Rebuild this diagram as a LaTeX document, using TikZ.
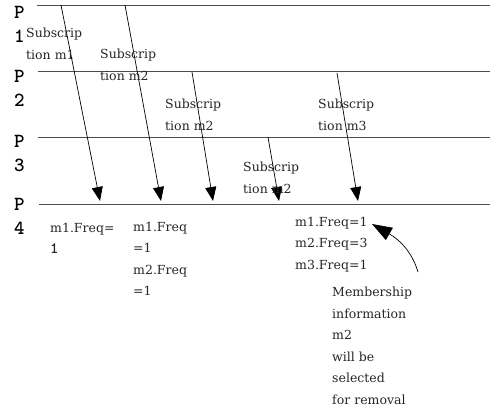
\documentclass[tikz,border=0pt]{standalone}
\usepackage{fontspec}
\setmainfont{DejaVu Serif}
\usetikzlibrary{arrows.meta}
\begin{document}
\begin{tikzpicture}[x=1pt,y=-1pt,
  proc/.style={draw=black!70, line width=0.9pt},
  msg/.style={draw=black, line width=0.7pt, -{Triangle[width=11pt,length=14pt]}},
  bigmsg/.style={draw=black, line width=0.7pt, -{Triangle[width=14pt,length=20pt]}},
  lbl/.style={anchor=north west, inner sep=0pt, align=left, text=black!85,
     font=\fontsize{12.5pt}{21.5pt}\selectfont},
  plbl/.style={anchor=north west, inner sep=0pt, align=left,
     font=\ttfamily\bfseries\fontsize{20pt}{24pt}\selectfont}]
\useasboundingbox (0,0) rectangle (490,415);
% process lines
\coordinate (l1a) at (37,5);   \coordinate (l1b) at (490,5);
\coordinate (l2a) at (38,71);  \coordinate (l2b) at (490,71);
\coordinate (l3a) at (38,137); \coordinate (l3b) at (490,137);
\coordinate (l4a) at (39,204); \coordinate (l4b) at (490,204);
\draw[proc] (l1a) -- (l1b);
\draw[proc] (l2a) -- (l2b);
\draw[proc] (l3a) -- (l3b);
\draw[proc] (l4a) -- (l4b);
% process labels
\node[plbl] (p1) at (14,6) {P\\1};
\node[plbl] (p2) at (14,70) {P\\2};
\node[plbl] (p3) at (14,135) {P\\3};
\node[plbl] (p4) at (14,198) {P\\4};
% messages
\coordinate (s1) at (61,5);   \coordinate (e1) at (100,201);
\coordinate (s2) at (125,5);  \coordinate (e2) at (161,201);
\coordinate (s3) at (192,72); \coordinate (e3) at (213,201);
\coordinate (s4) at (268,137);\coordinate (e4) at (279,201);
\coordinate (s5) at (337,73); \coordinate (e5) at (358,201);
\draw[msg] (s1) -- (e1);
\draw[msg] (s2) -- (e2);
\draw[msg] (s3) -- (e3);
\draw[msg] (s4) -- (e4);
\draw[msg] (s5) -- (e5);
% message labels
\node[lbl] (m1) at (26,28) {Subscrip\\tion m1};
\node[lbl] (m2a) at (100,49) {Subscrip\\tion m2};
\node[lbl] (m2b) at (165,99) {Subscrip\\tion m2};
\node[lbl] (m2c) at (243,162) {Subscrip\\tion m2};
\node[lbl] (m3) at (318,99) {Subscrip\\tion m3};
% frequencies
\node[lbl] (f1) at (50,223) {m1.Freq=\\{\ttfamily\bfseries\fontsize{16pt}{16pt}\selectfont 1}};
\node[lbl] (f2) at (133,222) {m1.Freq\\=1\\m2.Freq\\=1};
\node[lbl] (f3) at (295,217) {m1.Freq=1\\m2.Freq=3\\m3.Freq=1};
\node[lbl] (note) at (332,287) {Membership\\information\\m2\\will be\\selected\\for removal};
\coordinate (cs) at (418,272);
\coordinate (ct) at (372,224);
\draw[bigmsg] (cs) .. controls (412,252) and (400,240) .. (ct);
\end{tikzpicture}
\end{document}
